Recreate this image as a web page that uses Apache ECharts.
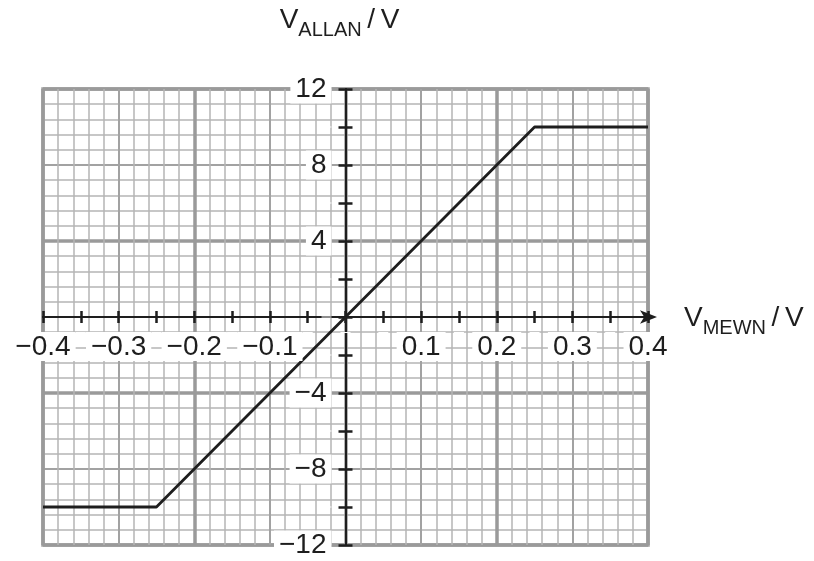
<!DOCTYPE html>
<html>
<head>
<meta charset="utf-8">
<script src="https://cdn.jsdelivr.net/npm/echarts@6/dist/echarts.min.js"></script>
<style>
  html, body { margin: 0; padding: 0; background: #fff; }
  #chart { width: 814px; height: 561px; }
</style>
</head>
<body>
<div id="chart"></div>
<script>
// Transfer characteristic: output clips at ±10 V beyond ±0.25 V input
const vMewn = [-0.4, -0.25, 0.25, 0.4];
const vAllan = [-10, -10, 10, 10];

// Axis ranges and tick spacing
const xMin = -0.4, xMax = 0.4, xTickStep = 0.05, xLabelStep = 0.1;
const yMin = -12, yMax = 12, yTickStep = 2, yLabelStep = 4;

// Graph-paper line spacings: fine squares, every fifth, every tenth
const xFine = 0.02, xMid = 0.1, xMajor = 0.2;
const yFine = 0.8, yMid = 4, yMajor = 8;

// Plot box inside the canvas
const W = 814, H = 561;
const box = { left: 43, right: 166, top: 89, bottom: 16 };
const boxW = W - box.left - box.right;
const boxH = H - box.top - box.bottom;
// Shift the axes from the box edges onto the zero lines
const xAxisShift = -boxH * (0 - yMin) / (yMax - yMin);
const yAxisShift = -boxW * (0 - xMin) / (xMax - xMin);

const FONT = '"Liberation Sans", Arial, sans-serif';
const INK = '#1e1e1e';

function minus(s) { return s.replace('-', '\u2212'); }

function xLabel(v) {
  const k = Math.round(v / xTickStep);
  if (k === 0 || k % Math.round(xLabelStep / xTickStep) !== 0) return '';
  return minus((Math.round(v * 10) / 10).toFixed(1));
}
function yLabel(v) {
  const r = Math.round(v);
  if (r === 0 || r % yLabelStep !== 0) return '';
  return minus(String(r));
}

function gridAxis(pos, min, max, step, color, width) {
  return {
    type: 'value', position: pos, min: min, max: max, interval: step,
    axisLine: { show: false, onZero: false },
    axisTick: { show: false }, axisLabel: { show: false },
    splitLine: { show: true, showMinLine: true, showMaxLine: true,
                 lineStyle: { color: color, width: width } }
  };
}

const labelBox = {
  fontFamily: FONT, fontSize: 28, color: INK,
  backgroundColor: '#fff', padding: [1, 5, 0, 5]
};

const nameRich = {
  v: { fontFamily: FONT, fontSize: 28, color: INK, verticalAlign: 'bottom', lineHeight: 30 },
  s: { fontFamily: FONT, fontSize: 20, color: INK, verticalAlign: 'bottom', lineHeight: 20, padding: [0, 0, -6, 0] },
  r: { fontFamily: FONT, fontSize: 28, color: INK, verticalAlign: 'bottom', lineHeight: 30 }
};

const xAxes = [
  { // main horizontal axis, ticks below, labels below
    type: 'value', position: 'bottom', offset: xAxisShift,
    min: xMin, max: xMax, interval: xTickStep,
    axisLine: { show: true, onZero: false,
                symbol: ['none', 'arrow'], symbolSize: [10, 17], symbolOffset: [0, 9],
                lineStyle: { color: INK, width: 2 } },
    axisTick: { show: true, inside: false, length: 6, lineStyle: { color: INK, width: 2.5 } },
    axisLabel: Object.assign({ show: true, margin: 15, formatter: xLabel,
                               showMinLabel: true, showMaxLabel: true }, labelBox),
    splitLine: { show: false },
    name: '{v|V}{s|MEWN}{r|\u2009/\u2009V}',
    nameLocation: 'end', nameGap: 36,
    nameTextStyle: { align: 'left', verticalAlign: 'middle', rich: nameRich },
    z: 5
  },
  { // tick halves above the horizontal axis
    type: 'value', position: 'bottom', offset: xAxisShift,
    min: xMin, max: xMax, interval: xTickStep,
    axisLine: { show: true, onZero: false, lineStyle: { color: INK, width: 2 } },
    axisTick: { show: true, inside: true, length: 6, lineStyle: { color: INK, width: 2.5 } },
    axisLabel: { show: false }, splitLine: { show: false },
    z: 5
  },
  gridAxis('top', xMin, xMax, xFine, '#b4b4b4', 1.5),
  gridAxis('top', xMin, xMax, xMid, '#a2a2a2', 2),
  gridAxis('top', xMin, xMax, xMajor, '#9a9a9a', 3.5)
];

const yAxes = [
  { // main vertical axis, ticks and labels to the left
    type: 'value', position: 'left', offset: yAxisShift,
    min: yMin, max: yMax, interval: yTickStep,
    axisLine: { show: true, onZero: false, lineStyle: { color: INK, width: 2 } },
    axisTick: { show: true, inside: false, length: 7, lineStyle: { color: INK, width: 2.5 } },
    axisLabel: Object.assign({ show: true, margin: 14, formatter: yLabel,
                               showMinLabel: true, showMaxLabel: true }, labelBox),
    splitLine: { show: false },
    name: '{v|V}{s|ALLAN}{r|\u2009/\u2009V}',
    nameLocation: 'end', nameGap: 55,
    nameTextStyle: { align: 'center', verticalAlign: 'bottom', padding: [0, 12, 0, 0], rich: nameRich },
    z: 5
  },
  { // tick halves right of the vertical axis
    type: 'value', position: 'left', offset: yAxisShift,
    min: yMin, max: yMax, interval: yTickStep,
    axisLine: { show: true, onZero: false, lineStyle: { color: INK, width: 2 } },
    axisTick: { show: true, inside: true, length: 7, lineStyle: { color: INK, width: 2.5 } },
    axisLabel: { show: false }, splitLine: { show: false },
    z: 5
  },
  gridAxis('right', yMin, yMax, yFine, '#b4b4b4', 1.5),
  gridAxis('right', yMin, yMax, yMid, '#a2a2a2', 2),
  gridAxis('right', yMin, yMax, yMajor, '#9a9a9a', 3.5)
];

const chart = echarts.init(document.getElementById('chart'), null, { renderer: 'canvas' });
chart.setOption({
  backgroundColor: '#fff',
  animation: false,
  grid: {
    left: box.left, right: box.right, top: box.top, bottom: box.bottom,
    containLabel: false, outerBoundsMode: 'none',
    show: true, borderWidth: 3.5, borderColor: '#a0a0a0', backgroundColor: 'transparent'
  },
  xAxis: xAxes,
  yAxis: yAxes,
  series: [{
    type: 'line',
    xAxisIndex: 0, yAxisIndex: 0,
    data: vMewn.map((x, i) => [x, vAllan[i]]),
    showSymbol: false, symbol: 'none',
    lineStyle: { color: INK, width: 2.8 },
    z: 4
  }]
});
</script>
</body>
</html>
